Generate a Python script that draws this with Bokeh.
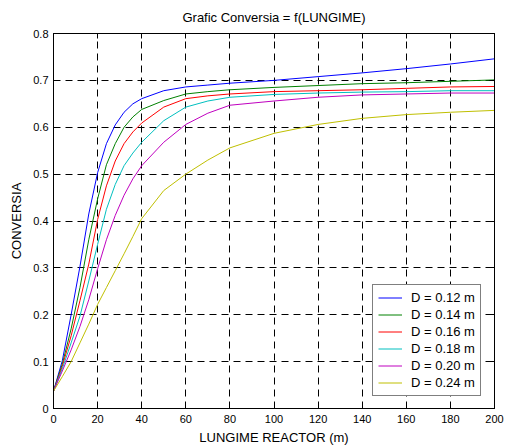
from bokeh.plotting import figure
from bokeh.models import FixedTicker, LinearAxis, Range1d
from bokeh.embed import file_html
from bokeh.resources import INLINE

# Reactor length (m)
lungime = [0, 4, 8, 12, 16, 20, 24, 28, 32, 36, 40, 50, 60, 70, 80, 100, 120, 140, 160, 180, 200]

conv_d012 = [0.037, 0.102, 0.200, 0.303, 0.415, 0.503, 0.565, 0.605, 0.632, 0.650, 0.661,
             0.678, 0.686, 0.690, 0.694, 0.700, 0.708, 0.716, 0.725, 0.735, 0.746]
conv_d014 = [0.037, 0.095, 0.170, 0.258, 0.360, 0.447, 0.520, 0.565, 0.600, 0.622, 0.638,
             0.657, 0.671, 0.676, 0.680, 0.685, 0.689, 0.693, 0.695, 0.698, 0.701]
conv_d016 = [0.037, 0.090, 0.155, 0.230, 0.308, 0.403, 0.475, 0.528, 0.565, 0.590, 0.609,
             0.643, 0.661, 0.667, 0.671, 0.676, 0.678, 0.680, 0.683, 0.686, 0.687]
conv_d018 = [0.037, 0.085, 0.140, 0.197, 0.272, 0.350, 0.425, 0.478, 0.518, 0.545, 0.568,
             0.614, 0.643, 0.656, 0.664, 0.670, 0.673, 0.675, 0.676, 0.678, 0.678]
conv_d020 = [0.037, 0.080, 0.125, 0.175, 0.232, 0.298, 0.360, 0.412, 0.455, 0.490, 0.518,
             0.568, 0.606, 0.630, 0.647, 0.656, 0.664, 0.669, 0.671, 0.673, 0.673]
conv_d024 = [0.037, 0.068, 0.100, 0.140, 0.180, 0.222, 0.258, 0.294, 0.330, 0.367, 0.405,
             0.465, 0.500, 0.530, 0.556, 0.587, 0.606, 0.619, 0.627, 0.632, 0.636]

series_labels = ["D = 0.12 m", "D = 0.14 m", "D = 0.16 m", "D = 0.18 m", "D = 0.20 m", "D = 0.24 m"]
series_colors = ["#0000ff", "#008000", "#ff0000", "#00bfbf", "#bf00bf", "#bfbf00"]

x_ticks = [0, 20, 40, 60, 80, 100, 120, 140, 160, 180, 200]
y_ticks = [0, 0.1, 0.2, 0.3, 0.4, 0.5, 0.6, 0.7, 0.8]
y_tick_labels = ["0", "0.1", "0.2", "0.3", "0.4", "0.5", "0.6", "0.7", "0.8"]

FONT = "Liberation Sans"

p = figure(width=509, height=448, output_backend="svg", toolbar_location=None,
           x_range=Range1d(0, 200), y_range=Range1d(0, 0.8),
           title="Grafic Conversia = f(LUNGIME)",
           min_border_left=53, min_border_right=15, min_border_top=33, min_border_bottom=40)

p.title.align = "center"
p.title.vertical_align = "top"
p.title.text_font = FONT
p.title.text_font_size = "13px"
p.title.text_font_style = "normal"
p.title.text_color = "black"
p.title.standoff = 14

all_series = [conv_d012, conv_d014, conv_d016, conv_d018, conv_d020, conv_d024]
for ys, lab, col in zip(all_series, series_labels, series_colors):
    p.line(lungime, ys, line_color=col, line_width=1, legend_label=lab)

# right/top boxes (ticks only)
p.add_layout(LinearAxis(), "right")
p.add_layout(LinearAxis(), "above")

for ax in p.xaxis:
    ax.ticker = FixedTicker(ticks=x_ticks)
for ax in p.yaxis:
    ax.ticker = FixedTicker(ticks=y_ticks)
    ax.major_label_overrides = {t: s for t, s in zip(y_ticks, y_tick_labels)}

for ax in p.axis:
    ax.major_tick_in = 5
    ax.major_tick_out = 0
    ax.minor_tick_in = 0
    ax.minor_tick_out = 0
    ax.axis_line_color = "black"
    ax.major_tick_line_color = "black"
    ax.major_label_text_font = FONT
    ax.major_label_text_font_size = "11px"
    ax.major_label_text_color = "black"
    ax.axis_label_text_font = FONT
    ax.axis_label_text_font_size = "13px"
    ax.axis_label_text_font_style = "normal"
    ax.axis_label_text_color = "black"

p.right[0].major_label_overrides = {t: "" for t in y_ticks}
p.right[0].major_label_standoff = 0
p.above[0].major_label_overrides = {t: "" for t in x_ticks}
p.above[0].major_label_standoff = 0

p.below[0].axis_label = "LUNGIME REACTOR (m)"
p.below[0].major_label_standoff = 6
p.below[0].axis_label_standoff = 4
p.left[0].axis_label = "CONVERSIA"
p.left[0].major_label_standoff = 5
p.left[0].axis_label_standoff = 6

p.grid.grid_line_color = "black"
p.grid.grid_line_dash = "7 5"
p.grid.grid_line_width = 1
p.xgrid.ticker = FixedTicker(ticks=x_ticks)
p.ygrid.ticker = FixedTicker(ticks=y_ticks)

p.outline_line_color = "black"
p.outline_line_width = 1
p.background_fill_color = "white"
p.border_fill_color = "white"

leg = p.legend[0]
leg.location = (319, 12)
leg.label_text_font = FONT
leg.label_text_font_size = "13px"
leg.label_text_color = "black"
leg.glyph_width = 24
leg.glyph_height = 15
leg.label_height = 15
leg.label_standoff = 9
leg.spacing = 2
leg.padding = 5
leg.margin = 0
leg.border_line_color = "black"
leg.border_line_width = 1
leg.background_fill_color = "white"
leg.background_fill_alpha = 1

open("out.html", "w").write(file_html(p, INLINE))
